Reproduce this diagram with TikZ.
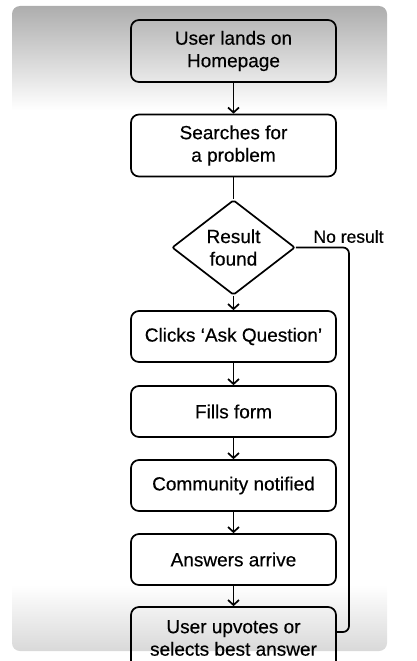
\documentclass[tikz,border=0pt]{standalone}
\usepackage{fontspec}
\setmainfont{Liberation Sans}
\newfontfamily\medfont{Liberation Sans}[FakeBold=0.4]
\usetikzlibrary{shapes.geometric,arrows.meta}
\begin{document}
\begin{tikzpicture}[x=1pt,y=-1pt,
  stepbox/.style={draw, line width=1.7pt, rounded corners=8pt, minimum width=205pt, align=center, inner sep=0pt, font=\medfont\fontsize{19}{22.5}\selectfont},
  decide/.style={draw, line width=1.7pt, diamond, rounded corners=2pt, minimum width=123pt, minimum height=95pt, inner sep=0pt, align=center, font=\medfont\fontsize{19}{22.5}\selectfont},
  flow/.style={line width=1.7pt, -{Straight Barb[length=5pt,width=11pt,line width=1.7pt]}},
  plain/.style={line width=1.7pt}]
\useasboundingbox (0,0) rectangle (417,661);
\clip (0,0) rectangle (417,661);
\begin{scope}
  \clip[rounded corners=8pt] (12,6) rectangle (387,651);
  \fill[white] (12,6) rectangle (387,651);
  \shade[top color=black!32, bottom color=white] (12,6) rectangle (387,110);
  \shade[top color=white, bottom color=black!15] (12,585) rectangle (387,651);
\end{scope}
\node[stepbox, minimum height=62pt] (s1) at (233.5,51) {User lands on\\Homepage};
\node[stepbox, minimum height=62pt] (s2) at (233.5,145.5) {Searches for\\a problem};
\node[decide] (d) at (233.5,247.5) {Result\\found};
\node[stepbox, minimum height=51pt] (s3) at (233.5,336.5) {Clicks ‘Ask Question’};
\node[stepbox, minimum height=51pt] (s4) at (233.5,411.5) {Fills form};
\node[stepbox, minimum height=51pt] (s5) at (233.5,485.5) {Community notified};
\node[stepbox, minimum height=51pt] (s6) at (233.5,559.5) {Answers arrive};
\node[stepbox, minimum height=62pt] (s7) at (233.5,638) {User upvotes or\\selects best answer};
\node[font=\medfont\fontsize{17.5}{20}\selectfont, anchor=west] (nr) at (310,236.5) {No result};
\draw[flow] (s1) -- (s2);
\draw[plain] (s2) -- (d);
\draw[flow] (d) -- (s3);
\draw[flow] (s3) -- (s4);
\draw[flow] (s4) -- (s5);
\draw[flow] (s5) -- (s6);
\draw[flow] (s6) -- (s7);
\coordinate (c1) at (349,247.5);
\coordinate (c2) at (349,632);
\draw[plain, rounded corners=6pt] (d.east) -- (c1) -- (c2) -- (s7.east |- c2);
\end{tikzpicture}
\end{document}
